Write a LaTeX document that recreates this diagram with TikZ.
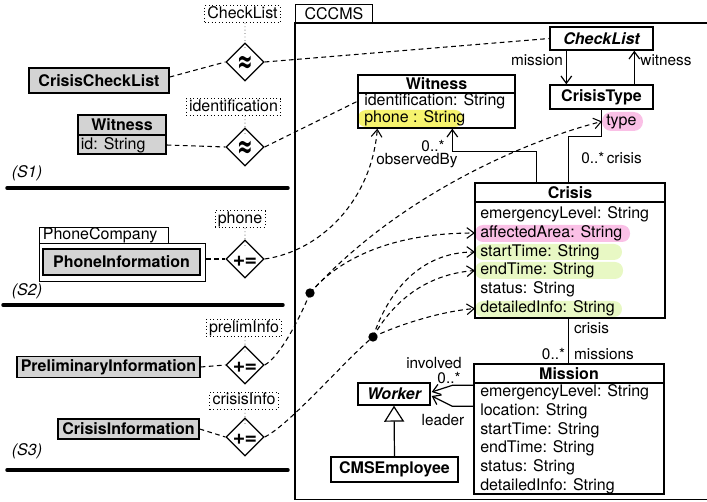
\documentclass[tikz,border=0pt]{standalone}
\usepackage{fontspec}
\setmainfont{TeX Gyre Heros}
\newfontfamily\symfont{DejaVu Sans}
\usetikzlibrary{arrows.meta,calc,shapes.geometric}
\definecolor{boxgray}{RGB}{211,211,211}
\definecolor{hlyellow}{RGB}{246,243,110}
\definecolor{hlpink}{RGB}{250,192,230}
\definecolor{hlgreen}{RGB}{232,248,196}
\newcommand{\opsym}[2]{\smash{\makebox[0pt]{\raisebox{#1}{#2}}}}
\newcommand{\approxsym}{\opsym{-8pt}{\scalebox{1}[1.7]{\symfont\bfseries\fontsize{14}{14}\selectfont ≈}}}
\newcommand{\plusassign}{\opsym{-5.3pt}{\fontsize{16}{16}\selectfont\bfseries +\kern-0.5pt=}}
\begin{document}
\begin{tikzpicture}[x=0.75pt,y=-0.75pt,
  every node/.style={font=\fontsize{12}{14}\selectfont, inner sep=0pt},
  umlbox/.style={draw, line width=1pt, rectangle, inner sep=0pt},
  graybox/.style={umlbox, fill=boxgray, font=\fontsize{12}{14}\selectfont\bfseries},
  pkg/.style={draw, line width=0.8pt, rectangle, inner sep=0pt},
  attr/.style={anchor=west, inner xsep=3.75pt, inner ysep=0pt, text height=8.6pt, text depth=2.4pt},
  hdr/.style={font=\fontsize{12}{14}\selectfont\bfseries},
  hdri/.style={font=\fontsize{12}{14}\selectfont\bfseries\itshape},
  tag/.style={draw, dotted, line width=0.6pt, inner xsep=2pt, inner ysep=0.8pt, text height=8.6pt, text depth=2.4pt},
  tagline/.style={dotted, line width=0.6pt, black!70},
  op/.style={diamond, draw, line width=1pt, minimum width=28.5pt, minimum height=28.5pt, inner sep=0pt},
  link/.style={line width=0.8pt, dash pattern=on 3.5pt off 2.6pt},
  assoc/.style={line width=0.9pt},
  barb/.style={-{Straight Barb[length=5.5pt,width=8pt]}},
  gen/.style={-{Triangle[open,width=15pt,length=12pt]}},
  rlab/.style={font=\fontsize{11.5}{13}\selectfont},
  sepline/.style={line width=2.6pt, line cap=round},
  scen/.style={font=\fontsize{12}{14}\selectfont\itshape},
  joint/.style={circle, fill=black, inner sep=0pt, minimum size=7pt},
]
\useasboundingbox (0,0) rectangle (707,502);

% ---------------- left side ----------------
\node[tag] (tCL) at (242.5,14) {CheckList};
\node[op] (d1) at (245,62) {\approxsym};
\draw[tagline] (tCL.south -| d1.north) -- ($(d1.north)!0.35!(d1.center)$);
\node[graybox, minimum width=105pt, minimum height=18.75pt] (ccl) at (99,80.5) {CrisisCheckList};

\node[umlbox, fill=boxgray, minimum width=66pt, minimum height=29.25pt] (lw) at (122,134.5) {};
\node[hdr] (lwh) at (122,125) {Witness};
\draw[line width=1pt] (lw.west |- 0,135) -- (lw.east |- 0,135);
\node[attr, inner xsep=2pt] (lwid) at (78,145) {id: String};

\node[tag] (tId) at (233.5,107) {identification};
\node[op] (d2) at (245,147) {\approxsym};
\draw[tagline] (tId.south -| d2.north) -- ($(d2.north)!0.35!(d2.center)$);

\node[scen] (s1) at (27,173.5) {(S1)};
\draw[sepline] (7,188) -- (288,188);

\node[pkg, anchor=north west, minimum height=12pt, text width=92pt, inner xsep=2.5pt, align=left] (pct) at (39,227) {PhoneCompany};
\node[pkg, anchor=north west, minimum width=124.5pt, minimum height=28.5pt] (pcb) at (39,243) {};
\node[graybox, minimum width=117.75pt, minimum height=19.5pt] (pinf) at (121.5,262) {PhoneInformation};

\node[tag] (tPh) at (240,219) {phone};
\node[op] (d3) at (245,259) {\plusassign};
\draw[tagline] (tPh.south -| d3.north) -- ($(d3.north)!0.35!(d3.center)$);

\node[scen] (s2) at (27,291) {(S2)};
\draw[sepline] (3,305) -- (283,305);

\node[tag] (tPI) at (244,328) {prelimInfo};
\node[op] (d4) at (245,365) {\plusassign};
\draw[tagline] (tPI.south -| d4.north) -- ($(d4.north)!0.35!(d4.center)$);
\node[graybox, minimum width=137.25pt, minimum height=16.1pt] (prel) at (108.5,367) {PreliminaryInformation};

\node[tag] (tCI) at (244,400.5) {crisisInfo};
\node[op] (d5) at (245,437) {\plusassign};
\draw[tagline] (tCI.south -| d5.north) -- ($(d5.north)!0.35!(d5.center)$);
\node[graybox, minimum width=105.75pt, minimum height=15pt] (cinf) at (128.5,429) {CrisisInformation};

\node[scen] (s3) at (27,451) {(S3)};
\draw[sepline] (7,470) -- (288,470);

% ---------------- CCCMS package ----------------
\node[pkg, line width=0.9pt, anchor=north west, minimum width=57.5pt, minimum height=14.25pt] (cct) at (295,4) {CCCMS};
\draw[line width=0.9pt] (295,23) rectangle (709,499.5);

% highlights
\fill[hlyellow, rounded corners=6pt] (358,110) rectangle (463,127);
\fill[hlpink, rounded corners=7pt] (602,112) rectangle (643,131);
\fill[hlpink, rounded corners=6pt] (475,225) rectangle (630,242);
\fill[hlgreen, rounded corners=6pt] (475,244) rectangle (622,260);
\fill[hlgreen, rounded corners=6pt] (475,262) rectangle (623,279);
\fill[hlgreen, rounded corners=6pt] (475,301) rectangle (622,317);

% CheckList / CrisisType
\node[umlbox, hdri, minimum width=77.25pt, minimum height=17.25pt] (chk) at (601.5,38.5) {CheckList};
\node[umlbox, hdr, minimum width=77.25pt, minimum height=18pt] (ctype) at (601.5,97) {CrisisType};
\node[attr, inner xsep=3pt] (ty) at (602,121.5) {type};

% Witness
\node[umlbox, minimum width=117.75pt, minimum height=39.75pt] (w) at (436.5,101.5) {};
\node[hdr] (wh) at (436.5,84) {Witness};
\draw[line width=1pt] (w.west |- 0,93) -- (w.east |- 0,93);
\node[attr, inner xsep=4.5pt] (wid) at (358,101) {identification: String};
\node[attr, inner xsep=4.5pt] (wph) at (358,118) {phone : String};

% Crisis
\node[umlbox, minimum width=142.5pt, minimum height=101.25pt] (crisis) at (570,250.5) {};
\node[hdr] (crh) at (570,192.5) {Crisis};
\draw[line width=1pt] (crisis.west |- 0,202) -- (crisis.east |- 0,202);
\node[attr] (cel) at (475,214) {emergencyLevel: String};
\node[attr] (caa) at (475,233) {affectedArea: String};
\node[attr] (cst) at (475,252) {startTime: String};
\node[attr] (cet) at (475,270.5) {endTime: String};
\node[attr] (cstat) at (475,289.5) {status: String};
\node[attr] (cdi) at (475,308.5) {detailedInfo: String};

% Mission
\node[umlbox, minimum width=142.5pt, minimum height=97.5pt] (mission) at (569,429) {};
\node[hdr] (mh) at (569,373.5) {Mission};
\draw[line width=1pt] (mission.west |- 0,383) -- (mission.east |- 0,383);
\node[attr, inner xsep=4.5pt] (mel) at (474,392.5) {emergencyLevel: String};
\node[attr, inner xsep=4.5pt] (mloc) at (474,411.2) {location: String};
\node[attr, inner xsep=4.5pt] (mst) at (474,429.9) {startTime: String};
\node[attr, inner xsep=4.5pt] (met) at (474,448.6) {endTime: String};
\node[attr, inner xsep=4.5pt] (mstat) at (474,467.3) {status: String};
\node[attr, inner xsep=4.5pt] (mdi) at (474,486) {detailedInfo: String};

% Worker / CMSEmployee
\node[umlbox, hdri, minimum width=54pt, minimum height=16.5pt] (worker) at (394,394) {Worker};
\node[umlbox, hdr, minimum width=95.25pt, minimum height=18.75pt] (cms) at (394.5,469.5) {CMSEmployee};

% ---------------- associations ----------------
\draw[assoc, barb] ($(chk.south west)+(17,0)$) -- ($(ctype.north west)+(17,0)$);
\draw[assoc, barb] ($(ctype.north west)+(85,0)$) -- ($(chk.south west)+(85,0)$);
\node[rlab] (lmis) at (537,60) {mission};
\node[rlab] (lwit) at (666,60) {witness};

\draw[assoc] ($(ctype.south west)+(52,0)$) -- ++(0,27) -| ($(crisis.north west)+(94,0)$);
\node[rlab] (lctm) at (611.5,158) {0..*\,crisis};

\draw[assoc, barb] ($(crisis.north west)+(62,0)$) -- ++(0,-31) -| ($(w.south west)+(95,0)$);
\node[rlab] (lobm) at (433,146) {0..*};
\node[rlab] (lobs) at (417,161) {observedBy};

\draw[assoc] ($(crisis.south west)+(94,0)$) -- ($(mission.north west)+(95,0)$);
\node[rlab] (lcr) at (591.5,328) {crisis};
\node[rlab] (lm0) at (553.5,354) {0..*};
\node[rlab] (lmis2) at (604,354) {missions};

\draw[assoc, barb] ($(mission.north west)+(0,22)$) -- ++(-21,0) -- ($(worker.east)+(1,-2)$);
\draw[assoc, barb] ($(mission.north west)+(0,43)$) -- ++(-21,0) -- ($(worker.east)+(1,2)$);
\node[rlab] (linv) at (434,363.5) {involved};
\node[rlab] (linv0) at (449,378.5) {0..*};
\node[rlab] (llead) at (443,420) {leader};

\draw[assoc, gen] (cms.north) -- (worker.south);

% ---------------- dashed links ----------------
\draw[link] ([yshift=2.6pt]ccl.east) -- (d1.west);
\draw[link] (d1.east) -- (chk.west);
\draw[link] (lw.east |- lwid) -- (d2.west);
\draw[link] (d2.east) -- (wid.west);
\draw[link] (pcb.east |- d3) -- (d3.west);
\draw[link, barb] (d3.east) .. controls +(56,-8) and +(-6,72) .. ($(w.south west)+(20,0)$);
\draw[link] (prel.east) -- (d4.west);
\draw[link] (cinf.east) -- (d5.west);

\node[joint] (dot1) at (310,293) {};
\node[joint] (dot2) at (373,337) {};
\draw[link] (d4.east) .. controls +(15,-8) and +(-10,25) .. (dot1.center);
\draw[link, barb] (dot1.center) .. controls +(25,-30) and +(-90,0) .. (caa.west);
\draw[link, barb] (dot1.center) .. controls +(100,-110) and +(-50,12) .. (ty.west);
\draw[link] (d5.east) .. controls +(25,-12) and +(-25,20) .. (dot2.center);
\draw[link, barb] (dot2.center) .. controls +(15,-45) and +(-55,0) .. (cst.west);
\draw[link, barb] (dot2.center) .. controls +(20,-35) and +(-50,4) .. (cet.west);
\draw[link, barb] (dot2.center) .. controls +(25,-12) and +(-35,3) .. (cdi.west);
\end{tikzpicture}
\end{document}
